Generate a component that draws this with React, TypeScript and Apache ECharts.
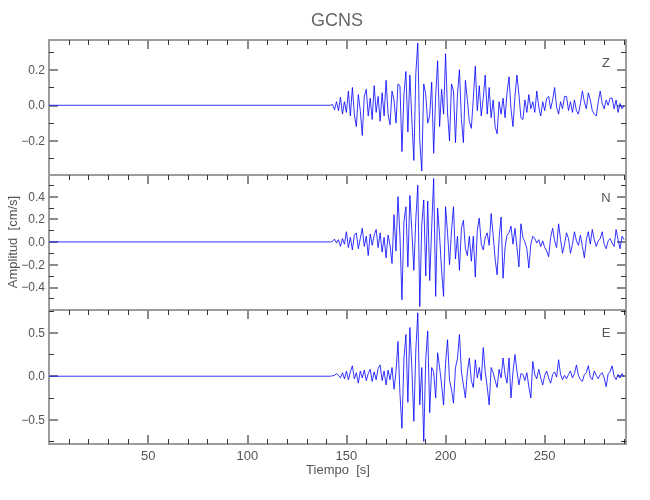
import React, { useEffect, useRef } from "react";
import * as echarts from "echarts";

// ---- data ----
const TITLE = "GCNS";
const X_LABEL = "Tiempo  [s]";
const Y_LABEL = "Amplitud  [cm/s]";
const COMPONENTS = ["Z", "N", "E"];
const T0 = 142; // first sample of the recorded signal (s)
const DT = 1; // sampling step (s)
const X_MIN = 0;
const X_MAX = 291;
const X_MAJOR = [50, 100, 150, 200, 250];
const X_MINOR = [10, 20, 30, 40, 60, 70, 80, 90, 110, 120, 130, 140, 160, 170, 180, 190, 210, 220, 230, 240, 260, 270, 280, 290];

const Z_VALUES = [
  0, 0.005, -0.025, 0.02, -0.03, 0.045, -0.05, 0.02, -0.04, 0.08,
  -0.06, 0.1, -0.05, -0.12, 0.06, -0.03, -0.17, 0.05, 0.09, -0.06,
  0.04, -0.08, 0.11, -0.04, 0.05, -0.09, 0.07, -0.06, 0.14, -0.05,
  -0.11, 0.08, 0.03, -0.1, 0.12, 0.11, -0.26, 0.06, 0.19, -0.15,
  0.17, -0.08, -0.31, 0.18, 0.35, -0.2, -0.37, 0.12, 0.06, -0.1,
  -0.06, 0.13, -0.27, 0.05, 0.25, -0.12, 0.09, -0.05, 0.29, -0.04,
  -0.2, 0.12, 0.08, -0.21, 0.06, 0.2, -0.08, -0.21, 0.14, 0.03,
  -0.09, -0.13, 0.04, 0.22, -0.03, 0.11, -0.06, 0.04, 0.17, -0.05,
  0.1, -0.07, 0.03, -0.12, -0.16, 0.02, -0.05, 0.04, -0.07, 0.07,
  0.16, -0.02, -0.12, 0.05, 0.17, 0.06, -0.07, -0.08, 0.03, -0.04,
  0.06, -0.02, 0.02, -0.04, 0.08, -0.01, -0.06, 0.02, -0.03, 0.04,
  0.05, -0.02, 0.03, 0.1, -0.01, -0.05, 0.02, -0.02, 0.05, 0.05,
  -0.03, 0.02, -0.04, 0.03, -0.03, -0.05, 0.01, 0.08, 0.02, -0.02,
  0.07, 0.03, -0.03, -0.05, -0.06, 0.02, 0.08, 0.01, -0.02, 0.03,
  0.0, 0.04, 0.04, -0.02, 0.03, -0.04, 0.01, -0.02, 0.0,
];

const N_VALUES = [
  0, 0.005, 0.025, -0.01, 0.02, -0.04, 0.03, -0.02, 0.09, -0.05,
  0.04, -0.07, 0.06, 0.08, -0.06, 0.03, 0.12, -0.04, 0.05, -0.12,
  0.07, -0.03, 0.06, 0.11, -0.05, 0.08, -0.09, 0.04, -0.14, 0.06,
  -0.03, -0.19, 0.24, -0.08, 0.4, 0.05, -0.51, 0.18, 0.31, -0.22,
  0.41, 0.1, -0.25, 0.2, 0.5, -0.57, 0.15, 0.37, -0.3, 0.36,
  -0.34, 0.12, 0.56, -0.48, 0.3, 0.05, -0.25, -0.48, 0.31, 0.08,
  -0.2, 0.1, 0.31, -0.15, 0.05, -0.25, 0.12, 0.19, -0.06, -0.12,
  0.05, -0.17, 0.05, -0.31, 0.1, 0.21, -0.02, -0.07, 0.04, 0.08,
  -0.03, 0.25, 0.06, -0.15, -0.29, 0.03, 0.22, -0.32, -0.05, 0.06,
  0.08, 0.14, -0.02, 0.12, -0.05, -0.22, 0.16, 0.04, 0.0, -0.06,
  -0.23, -0.02, 0.05, 0.03, -0.01, 0.02, -0.04, 0.01, -0.05, -0.08,
  -0.13, 0.04, 0.12, 0.01, -0.05, 0.16, 0.02, -0.1, -0.02, 0.08,
  0.03, -0.1, -0.02, 0.09, 0.01, -0.03, 0.06, -0.04, -0.14, 0.02,
  0.09, -0.02, 0.11, 0.02, -0.04, 0.01, 0.03, 0.09, -0.02, -0.06,
  0.01, 0.03, -0.01, -0.04, 0.11, 0.02, -0.06, 0.05, 0.02,
];

const E_VALUES = [
  0, 0.005, 0.01, 0.03, 0.01, -0.02, 0.04, -0.03, 0.06, -0.04,
  0.05, 0.12, -0.03, 0.04, -0.08, 0.06, -0.02, 0.07, -0.05, 0.03,
  0.08, -0.06, 0.05, -0.04, 0.09, 0.13, -0.05, 0.06, -0.1, 0.07,
  -0.04, 0.1, -0.15, 0.05, 0.4, -0.2, -0.6, 0.2, 0.48, -0.3,
  0.56, 0.1, -0.52, 0.3, 0.73, -0.33, 0.1, -0.75, 0.2, 0.52,
  -0.42, 0.1, 0.05, -0.25, 0.27, 0.1, -0.1, -0.33, 0.15, 0.42,
  -0.05, -0.15, -0.31, 0.1, 0.2, 0.48, 0.05, -0.1, -0.25, 0.05,
  0.21, -0.05, -0.13, 0.19, -0.02, 0.1, -0.05, 0.33, 0.05, -0.12,
  -0.33, 0.1, 0.04, -0.05, -0.13, 0.08, -0.02, 0.21, 0.02, -0.08,
  0.21, -0.25, 0.05, 0.25, 0.06, -0.1, 0.03, 0.02, -0.05, 0.04,
  -0.12, -0.25, 0.17, 0.02, -0.03, 0.08, -0.02, -0.1, 0.01, 0.06,
  -0.02, -0.08, 0.02, 0.05, -0.01, 0.19, 0.02, -0.04, 0.01, -0.03,
  0.02, 0.06, -0.02, 0.03, 0.13, 0.01, -0.04, -0.06, 0.02, 0.04,
  0.12, -0.01, -0.04, 0.06, 0.01, -0.03, 0.02, 0.04, -0.02, -0.12,
  0.03, 0.05, 0.12, 0.0, -0.04, 0.02, -0.02, 0.03, -0.01,
];

const Y_RANGES = [
  [-0.392, 0.367],
  [-0.6, 0.59],
  [-0.78, 0.762],
];
const Y_MAJOR = [
  [-0.2, 0, 0.2],
  [-0.4, -0.2, 0, 0.2, 0.4],
  [-0.5, 0, 0.5],
];
const Y_MINOR = [
  [-0.3, -0.1, 0.1, 0.3],
  [-0.5, -0.3, -0.1, 0.1, 0.3, 0.5],
  [-0.75, -0.25, 0.25, 0.75],
];

const FONT = "'Liberation Sans Narrow', 'Liberation Sans', sans-serif";
const TEXT_COLOR = "#555";
const BORDER_COLOR = "#9c9c9c";
const MAJOR_TICK = { color: "#8a8a8a", width: 2 };
const MINOR_TICK = { color: "#333", width: 1 };

const GRIDS = [
  { top: 40, height: 135 },
  { top: 175, height: 135 },
  { top: 310, height: 134 },
];

function fmtY(v: number) {
  const s = Math.abs(v).toFixed(1);
  return v < 0 ? "\u2212" + s : s;
}

export default function App() {
  const ref = useRef<HTMLDivElement>(null);
  useEffect(() => {
    if (!ref.current) return;
    const chart = echarts.init(ref.current, undefined, { renderer: "svg" });
    const traces = [Z_VALUES, N_VALUES, E_VALUES];

    const xAxes: any[] = [];
    const yAxes: any[] = [];
    const series: any[] = [];

    GRIDS.forEach((_, i) => {
      const isLast = i === GRIDS.length - 1;
      const baseX = {
        type: "value",
        gridIndex: i,
        min: X_MIN,
        max: X_MAX,
        axisLine: { show: false, onZero: false },
        splitLine: { show: false },
        axisLabel: { show: false },
      };
      const mainX = xAxes.length;
      xAxes.push({
        ...baseX,
        position: "bottom",
        axisTick: { show: isLast, inside: true, length: 9, customValues: X_MAJOR, lineStyle: MAJOR_TICK },
        axisLabel: {
          show: isLast,
          customValues: X_MAJOR,
          margin: 5,
          color: TEXT_COLOR,
          fontFamily: FONT,
          fontSize: 13,
        },
      });
      if (isLast) {
        xAxes.push({
          ...baseX,
          position: "bottom",
          axisTick: { show: true, inside: true, length: 5, customValues: X_MINOR, lineStyle: MINOR_TICK },
        });
      }
      xAxes.push({
        ...baseX,
        position: "top",
        axisTick: { show: true, inside: true, length: 9, customValues: X_MAJOR, lineStyle: MAJOR_TICK },
      });
      xAxes.push({
        ...baseX,
        position: "top",
        axisTick: { show: true, inside: true, length: 5, customValues: X_MINOR, lineStyle: MINOR_TICK },
      });

      const [ymin, ymax] = Y_RANGES[i];
      const baseY = {
        type: "value",
        gridIndex: i,
        min: ymin,
        max: ymax,
        axisLine: { show: false, onZero: false },
        splitLine: { show: false },
        axisLabel: { show: false },
      };
      const mainY = yAxes.length;
      yAxes.push({
        ...baseY,
        position: "left",
        axisTick: { show: true, inside: true, length: 9, customValues: Y_MAJOR[i], lineStyle: MAJOR_TICK },
        axisLabel: {
          show: true,
          customValues: Y_MAJOR[i],
          formatter: fmtY,
          margin: 4,
          color: TEXT_COLOR,
          fontFamily: FONT,
          fontSize: 12,
        },
      });
      yAxes.push({
        ...baseY,
        position: "left",
        axisTick: { show: true, inside: true, length: 5, customValues: Y_MINOR[i], lineStyle: MINOR_TICK },
      });
      yAxes.push({
        ...baseY,
        position: "right",
        axisTick: { show: true, inside: true, length: 9, customValues: Y_MAJOR[i], lineStyle: MAJOR_TICK },
      });
      yAxes.push({
        ...baseY,
        position: "right",
        axisTick: { show: true, inside: true, length: 5, customValues: Y_MINOR[i], lineStyle: MINOR_TICK },
      });

      const data: number[][] = [[X_MIN, 0]];
      traces[i].forEach((v, k) => data.push([T0 + k * DT, v]));
      series.push({
        type: "line",
        name: COMPONENTS[i],
        xAxisIndex: mainX,
        yAxisIndex: mainY,
        data,
        showSymbol: false,
        symbol: "none",
        lineStyle: { color: "#0000ff", width: 0.8 },
        emphasis: { disabled: true },
      });
    });

    const labelYs = [62, 197, 332];

    chart.setOption({
      animation: false,
      grid: GRIDS.map((g) => ({
        left: 49,
        right: 24,
        top: g.top,
        height: g.height,
        show: true,
        borderColor: BORDER_COLOR,
        borderWidth: 2,
        backgroundColor: "transparent",
      })),
      xAxis: xAxes,
      yAxis: yAxes,
      series,
      graphic: [
        {
          type: "text",
          x: 337,
          y: 20,
          style: { text: TITLE, font: `18px ${FONT}`, fill: "#666", align: "center", verticalAlign: "middle" },
        },
        ...COMPONENTS.map((c, i) => ({
          type: "text",
          x: 606,
          y: labelYs[i],
          style: { text: c, font: `13px ${FONT}`, fill: TEXT_COLOR, align: "center", verticalAlign: "middle" },
        })),
        {
          type: "text",
          x: 12,
          y: 242,
          rotation: Math.PI / 2,
          style: { text: Y_LABEL, font: `13px ${FONT}`, fill: TEXT_COLOR, align: "center", verticalAlign: "middle" },
        },
        {
          type: "text",
          x: 338,
          y: 469,
          style: { text: X_LABEL, font: `13px ${FONT}`, fill: TEXT_COLOR, align: "center", verticalAlign: "middle" },
        },
      ],
    });
    return () => chart.dispose();
  }, []);
  return <div ref={ref} style={{ position: "fixed", left: 0, top: 0, width: 650, height: 500 }} />;
}
